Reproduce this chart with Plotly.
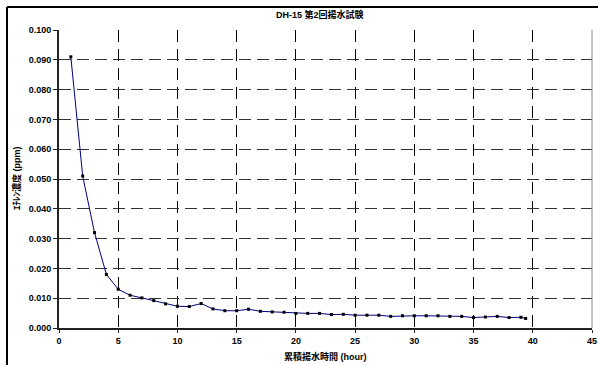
import plotly.graph_objects as go

hours = [1.0, 2.0, 3.0, 4.0, 5.0, 6.0, 7.0, 8.0, 9.0, 10.0, 11.0, 12.0, 13.0, 14.0, 15.0,
         16.0, 17.0, 18.0, 19.0, 20.0, 21.0, 22.0, 23.0, 24.0, 25.0, 26.0, 27.0, 28.0,
         29.0, 30.0, 31.0, 32.0, 33.0, 34.0, 35.0, 36.0, 37.0, 38.0, 39.0, 39.4]
conc = [0.091, 0.051, 0.032, 0.018, 0.013, 0.011, 0.0101, 0.0092, 0.0081, 0.0073,
        0.0072, 0.0082, 0.0064, 0.0058, 0.0058, 0.0063, 0.0056, 0.0054, 0.0053, 0.0049,
        0.0049, 0.0049, 0.0045, 0.0046, 0.0043, 0.0043, 0.0043, 0.0039, 0.0041, 0.0041,
        0.0041, 0.0041, 0.0039, 0.0039, 0.0035, 0.0037, 0.0039, 0.0035, 0.0036, 0.0032]

title_text = "DH-15 第2回揚水試験"
x_title = "累積揚水時間 (hour)"
y_title = "ｴﾁﾚﾝ濃度 (ppm)"

FONT = "Liberation Sans, Arial, Noto Sans CJK JP, sans-serif"

L, R, T, B = 59, 6, 30, 37
W, H = 598, 365
PW, PH = W - L - R, H - T - B


def px_x(px):
    return (px - L) / PW


def px_y(py):
    return (H - B - py) / PH


fig = go.Figure()
fig.add_trace(go.Scatter(
    x=hours, y=conc, mode="lines+markers",
    line=dict(color="#000080", width=1),
    marker=dict(symbol="square", size=3, color="black"),
    showlegend=False,
))

fig.update_layout(
    width=W, height=H,
    margin=dict(l=L, r=R, t=T, b=B),
    paper_bgcolor="white", plot_bgcolor="white",
    font=dict(family=FONT, size=9, color="black"),
    xaxis=dict(
        range=[0, 45], dtick=5, tick0=0, automargin=False,
        showgrid=True, gridcolor="black", gridwidth=1, griddash="12px,7px",
        showline=True, linecolor="#222", linewidth=2, mirror=False,
        ticks="outside", ticklen=3, tickcolor="#222",
        tickfont=dict(size=9, family=FONT),
        zeroline=False, tickprefix="<b>", ticksuffix="</b>",
    ),
    yaxis=dict(
        range=[0, 0.100], dtick=0.01, tick0=0, tickformat=".3f", automargin=False,
        showgrid=True, gridcolor="#333", gridwidth=1, griddash="12px,6px",
        showline=True, linecolor="#222", linewidth=2,
        ticks="outside", ticklen=4, tickcolor="#222",
        tickfont=dict(size=9, family=FONT),
        zeroline=False, tickprefix="<b>", ticksuffix="</b>",
    ),
    annotations=[
        dict(text="<b>" + title_text + "</b>", xref="paper", yref="paper",
             x=px_x(320), y=px_y(15), showarrow=False, xanchor="center",
             yanchor="middle", font=dict(size=9)),
        dict(text="<b>" + x_title + "</b>", xref="paper", yref="paper",
             x=px_x(325), y=px_y(356), showarrow=False, xanchor="center",
             yanchor="middle", font=dict(size=9)),
        dict(text="<b>" + y_title + "</b>", xref="paper", yref="paper",
             x=px_x(17), y=px_y(178), showarrow=False, xanchor="center",
             yanchor="middle", textangle=-90, font=dict(size=9)),
    ],
    shapes=[
        dict(type="line", xref="paper", yref="paper", x0=1, x1=1, y0=0, y1=1,
             line=dict(color="#888", width=1)),
        dict(type="line", xref="paper", yref="paper", x0=px_x(7), x1=1.05,
             y0=px_y(7), y1=px_y(7), line=dict(color="black", width=2)),
        dict(type="line", xref="paper", yref="paper", x0=px_x(7), x1=px_x(7),
             y0=-0.3, y1=px_y(7), line=dict(color="black", width=2)),
    ],
)

fig.write_html(
    "out.html",
    config={"displayModeBar": False, "staticPlot": True},
    post_script="document.body.style.margin='0';document.body.style.overflow='hidden';",
)
